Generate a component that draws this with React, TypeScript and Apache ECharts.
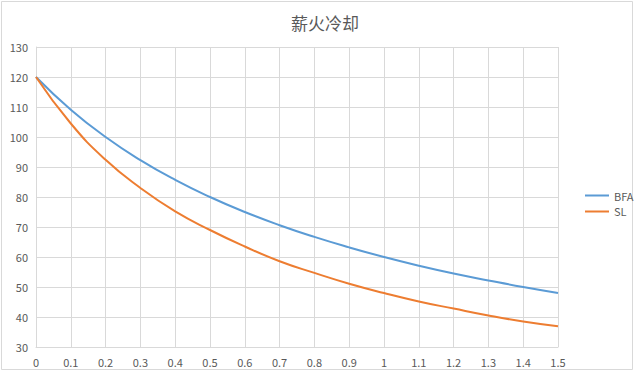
import React, { useEffect, useRef } from "react";
import * as echarts from "echarts";

const titleText = "薪火冷却";
const xCategories = ["0", "0.1", "0.2", "0.3", "0.4", "0.5", "0.6", "0.7", "0.8", "0.9", "1", "1.1", "1.2", "1.3", "1.4", "1.5"];
const bfaValues = [120, 109.1, 100, 92.3, 85.7, 80, 75, 70.6, 66.7, 63.2, 60, 57.1, 54.5, 52.2, 50, 48];
const slValues = [120, 104.5, 92.4, 83, 75.2, 69, 63.5, 58.6, 54.7, 51.1, 48, 45.2, 42.8, 40.5, 38.5, 36.9];
const yMin = 30;
const yMax = 130;
const yStep = 10;

export default function App() {
  const ref = useRef<HTMLDivElement>(null);
  useEffect(() => {
    if (!ref.current) return;
    const chart = echarts.init(ref.current, null, { renderer: "svg" });
    const font = "'Microsoft YaHei', 'Noto Sans CJK SC', 'Noto Sans', sans-serif";
    chart.setOption({
      animation: false,
      backgroundColor: "#ffffff",
      textStyle: { fontFamily: font },
      title: {
        text: titleText,
        left: 320,
        textAlign: "center",
        top: 9,
        textStyle: { fontSize: 17, fontWeight: "normal", color: "#595959", fontFamily: font },
      },
      graphic: [
        {
          type: "rect",
          shape: { x: 1.5, y: 1.5, width: 631, height: 368 },
          style: { fill: "none", stroke: "#d9d9d9", lineWidth: 1 },
          silent: true,
        },
      ],
      legend: {
        orient: "vertical",
        left: 580,
        top: 185,
        itemGap: 5,
        itemWidth: 24,
        itemHeight: 2,
        icon: "rect",
        textStyle: { fontSize: 11, color: "#595959", fontFamily: font },
        data: ["BFA", "SL"],
      },
      grid: { left: 36, right: 82, top: 47, bottom: 29, containLabel: false },
      xAxis: {
        type: "category",
        data: xCategories,
        boundaryGap: false,
        axisLine: { show: true, lineStyle: { color: "#d9d9d9" } },
        axisTick: { show: false },
        axisLabel: { color: "#595959", fontSize: 11, margin: 9, fontFamily: font },
        splitLine: { show: true, lineStyle: { color: "#d9d9d9", width: 1 } },
      },
      yAxis: {
        type: "value",
        min: yMin,
        max: yMax,
        interval: yStep,
        axisLine: { show: true, lineStyle: { color: "#d9d9d9" } },
        axisTick: { show: false },
        axisLabel: { color: "#595959", fontSize: 11, margin: 8, fontFamily: font },
        splitLine: { show: true, lineStyle: { color: "#d9d9d9", width: 1 } },
      },
      series: [
        {
          name: "BFA",
          type: "line",
          data: bfaValues,
          smooth: true,
          symbol: "none",
          lineStyle: { color: "#5b9bd5", width: 2 },
          itemStyle: { color: "#5b9bd5" },
        },
        {
          name: "SL",
          type: "line",
          data: slValues,
          smooth: true,
          symbol: "none",
          lineStyle: { color: "#ed7d31", width: 2 },
          itemStyle: { color: "#ed7d31" },
        },
      ],
    });
    return () => chart.dispose();
  }, []);
  return (
    <div
      ref={ref}
      style={{ position: "absolute", left: 0, top: 0, width: 640, height: 376 }}
    />
  );
}
